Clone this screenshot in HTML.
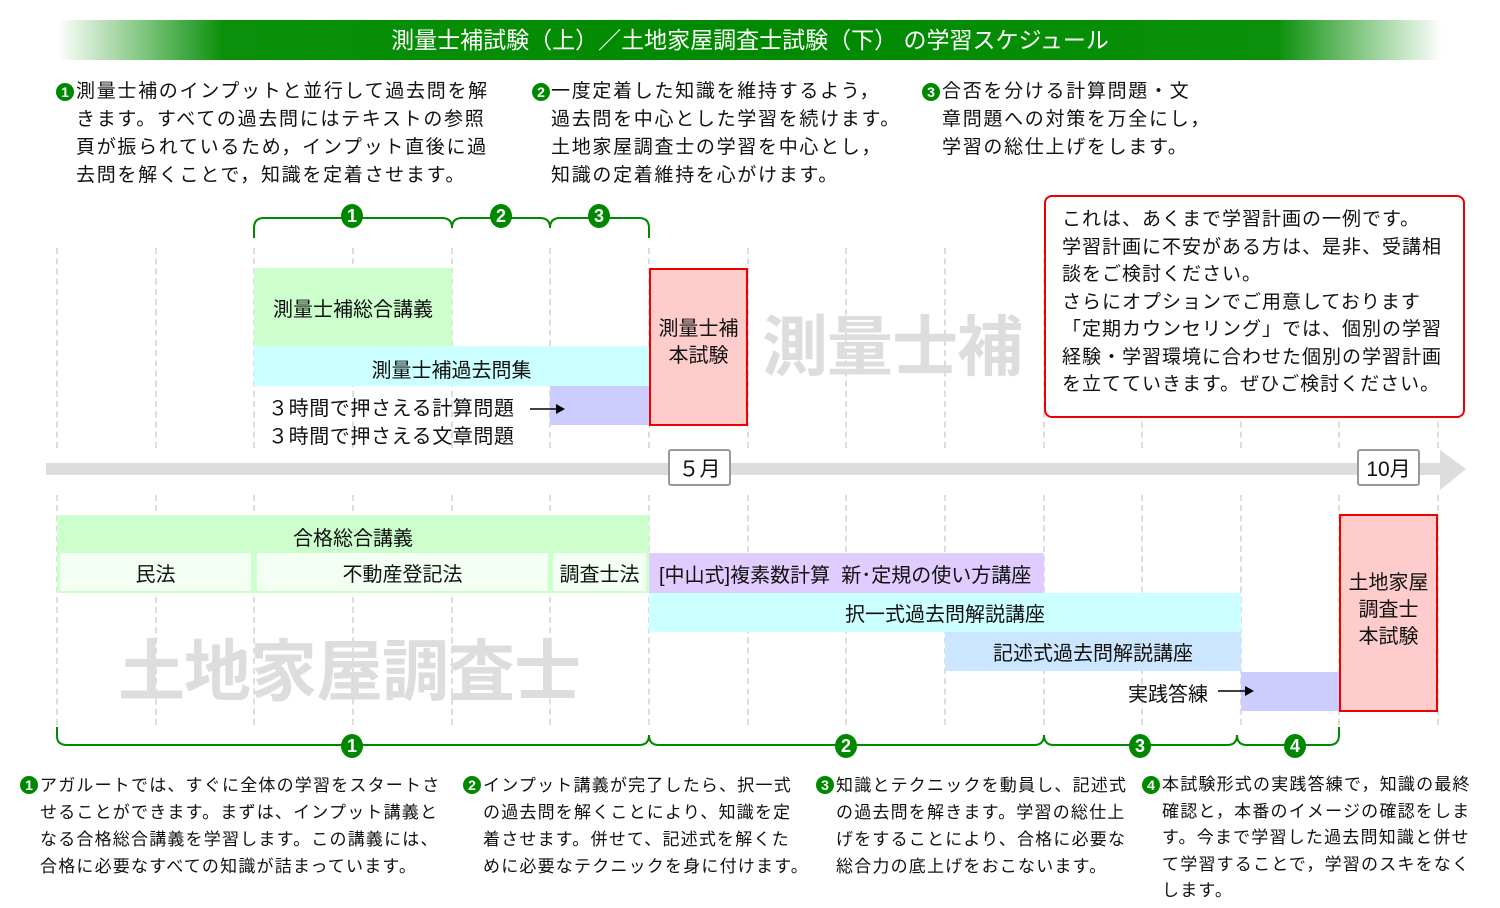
<!DOCTYPE html>
<html><head><meta charset="utf-8"><style>
body{margin:0;width:1500px;height:908px;background:#fff;position:relative;overflow:hidden;font-family:"Liberation Sans","Noto Sans CJK JP",sans-serif;color:#111}
.a{position:absolute}
.vl{position:absolute;top:248px;width:0;border-left:2px dashed #ddd;height:200px}
.vl2{position:absolute;top:495px;width:0;border-left:2px dashed #ddd;height:230px}
.t{position:absolute;font-size:19px;line-height:28px;letter-spacing:1.7px;white-space:nowrap}
.b{position:absolute;font-size:17px;line-height:27px;letter-spacing:1.2px;white-space:nowrap}
.n{position:absolute;width:18px;height:18px;border-radius:50%;background:#080;color:#fff;font-size:14px;line-height:18px;text-align:center;font-weight:bold;letter-spacing:0}
.c{position:absolute;width:22px;height:24px;border-radius:50%;background:#080;color:#fff;font-weight:bold;font-size:18px;line-height:24px;text-align:center}
.box{position:absolute;display:flex;align-items:center;justify-content:center;font-size:20px;white-space:nowrap}
.ex{position:absolute;box-sizing:border-box;border:2px solid #e00;background:#ffcccc;font-size:20px;text-align:center;line-height:27px}
</style></head><body>
<div class="a" style="left:57px;top:20px;width:1386px;height:40px;background:linear-gradient(90deg,#fff 0%,#0a900a 12%,#008a00 50%,#0a900a 88%,#fff 100%)"></div>
<div class="a" style="left:0;top:20px;width:1500px;height:40px;line-height:40px;text-align:center;color:#fff;font-size:23px">測量士補試験（上）／土地家屋調査士試験（下） の学習スケジュール</div>

<div class="n" style="left:56px;top:83px">1</div>
<div class="t" style="left:76px;top:78px">測量士補のインプットと並行して過去問を解<br>きます。すべての過去問にはテキストの参照<br>頁が振られているため，インプット直後に過<br>去問を解くことで，知識を定着させます。</div>
<div class="n" style="left:532px;top:83px">2</div>
<div class="t" style="left:551px;top:78px">一度定着した知識を維持するよう，<br>過去問を中心とした学習を続けます。<br>土地家屋調査士の学習を中心とし，<br>知識の定着維持を心がけます。</div>
<div class="n" style="left:922px;top:83px">3</div>
<div class="t" style="left:942px;top:78px">合否を分ける計算問題・文<br>章問題への対策を万全にし，<br>学習の総仕上げをします。</div>

<!-- grid -->
<div class="vl" style="left:56px"></div><div class="vl" style="left:155px"></div><div class="vl" style="left:253px"></div><div class="vl" style="left:352px"></div><div class="vl" style="left:451px"></div><div class="vl" style="left:549px"></div><div class="vl" style="left:648px"></div><div class="vl" style="left:747px"></div><div class="vl" style="left:845px"></div><div class="vl" style="left:944px"></div><div class="vl" style="left:1043px"></div><div class="vl" style="left:1141px"></div><div class="vl" style="left:1240px"></div><div class="vl" style="left:1338px"></div><div class="vl" style="left:1437px"></div>
<div class="vl2" style="left:56px"></div><div class="vl2" style="left:155px"></div><div class="vl2" style="left:253px"></div><div class="vl2" style="left:352px"></div><div class="vl2" style="left:451px"></div><div class="vl2" style="left:549px"></div><div class="vl2" style="left:648px"></div><div class="vl2" style="left:747px"></div><div class="vl2" style="left:845px"></div><div class="vl2" style="left:944px"></div><div class="vl2" style="left:1043px"></div><div class="vl2" style="left:1141px"></div><div class="vl2" style="left:1240px"></div><div class="vl2" style="left:1338px"></div><div class="vl2" style="left:1437px"></div>

<!-- watermarks -->
<div class="a" style="left:762px;top:294px;font-size:66px;font-weight:bold;color:#ddd;white-space:nowrap;letter-spacing:-1px">測量士補</div>
<div class="a" style="left:118px;top:618px;font-size:67px;font-weight:bold;color:#ddd;white-space:nowrap;letter-spacing:-1px">土地家屋調査士</div>

<!-- top rows -->
<div class="box" style="left:254px;top:268px;width:198px;height:78px;background:#ccffcc">測量士補総合講義</div>
<div class="box" style="left:254px;top:346px;width:395px;height:40px;background:#ccffff;padding-top:4px;box-sizing:border-box">測量士補過去問集</div>
<div class="a" style="left:550px;top:386px;width:99px;height:39px;background:#ccccff"></div>
<div class="a" style="left:268px;top:395px;font-size:20px;line-height:28px;white-space:nowrap;letter-spacing:0.6px">３時間で押さえる計算問題<br>３時間で押さえる文章問題</div>
<div class="ex" style="left:649px;top:268px;width:99px;height:158px;padding-top:46px">測量士補<br>本試験</div>

<div class="box" style="left:668px;top:449px;width:63px;height:37px;box-sizing:border-box;border:2px solid #999;border-radius:3px;background:#fff;font-size:21px">５月</div>
<div class="box" style="left:1357px;top:449px;width:63px;height:37px;box-sizing:border-box;border:2px solid #999;border-radius:3px;background:#fff;font-size:21px">10月</div>

<div class="a" style="left:1044px;top:195px;width:421px;height:223px;box-sizing:border-box;border:2px solid #e00;border-radius:8px;background:#fff;padding:9px 0 0 16px;font-size:19px;line-height:27.5px;letter-spacing:1px;white-space:nowrap">これは、あくまで学習計画の一例です。<br>学習計画に不安がある方は、是非、受講相<br>談をご検討ください。<br>さらにオプションでご用意しております<br>「定期カウンセリング」では、個別の学習<br>経験・学習環境に合わせた個別の学習計画<br>を立てていきます。ぜひご検討ください。</div>

<!-- bottom rows -->
<div class="box" style="left:57px;top:515px;width:592px;height:78px;background:#ccffcc;align-items:flex-start;padding-top:7px;box-sizing:border-box">合格総合講義</div>
<div class="box" style="left:60px;top:553px;width:191px;height:38px;background:#f2fff2">民法</div>
<div class="box" style="left:257px;top:553px;width:291px;height:38px;background:#f2fff2">不動産登記法</div>
<div class="box" style="left:553px;top:553px;width:93px;height:38px;background:#f2fff2">調査士法</div>
<div class="box" style="left:649px;top:553px;width:395px;height:40px;background:#e0ccff;justify-content:flex-start;padding-left:10px;box-sizing:border-box">[中山式]複素数計算&nbsp;&nbsp;新･定規の使い方講座</div>
<div class="box" style="left:649px;top:593px;width:592px;height:39px;background:#ccffff">択一式過去問解説講座</div>
<div class="box" style="left:945px;top:632px;width:296px;height:39px;background:#cce6ff">記述式過去問解説講座</div>
<div class="a" style="left:1241px;top:672px;width:98px;height:39px;background:#ccccff"></div>
<div class="a" style="left:1128px;top:678px;font-size:20px;white-space:nowrap">実践答練</div>
<div class="ex" style="left:1339px;top:514px;width:99px;height:198px;padding-top:54px">土地家屋<br>調査士<br>本試験</div>

<!-- brackets / axis / arrows -->
<svg class="a" style="left:0;top:0" width="1500" height="908">
<g fill="none" stroke="#080" stroke-width="2">
<path d="M254 238 V228 Q254 218 264 218 H442 Q452 218 452 228 Q452 218 462 218 H540 Q550 218 550 228 Q550 218 560 218 H639 Q649 218 649 228 V238"/>
<path d="M57 727 V736 Q57 745 67 745 H639 Q649 745 649 735 Q649 745 659 745 H1034 Q1044 745 1044 735 Q1044 745 1054 745 H1227 Q1237 745 1237 735 Q1237 745 1247 745 H1329 Q1339 745 1339 735 V727"/>
</g>
<rect x="46" y="463" width="622" height="12" fill="#ddd"/>
<rect x="731" y="463" width="626" height="12" fill="#ddd"/>
<rect x="1420" y="463" width="22" height="12" fill="#ddd"/>
<polygon points="1440,450 1466,469 1440,490" fill="#ddd"/>
<line x1="530" y1="409" x2="556" y2="409" stroke="#000" stroke-width="1.5"/><polygon points="556,404 565,409 556,414"/>
<line x1="1218" y1="691" x2="1245" y2="691" stroke="#000" stroke-width="1.5"/><polygon points="1245,686 1254,691 1245,696"/>
</svg>
<div class="c" style="left:341px;top:204px">1</div><div class="c" style="left:490px;top:204px">2</div><div class="c" style="left:588px;top:204px">3</div>
<div class="c" style="left:341px;top:734px">1</div><div class="c" style="left:835px;top:734px">2</div><div class="c" style="left:1129px;top:734px">3</div><div class="c" style="left:1284px;top:734px">4</div>

<div class="n" style="left:20px;top:776px">1</div>
<div class="b" style="left:40px;top:772px">アガルートでは、すぐに全体の学習をスタートさ<br>せることができます。まずは、インプット講義と<br>なる合格総合講義を学習します。この講義には、<br>合格に必要なすべての知識が詰まっています。</div>
<div class="n" style="left:463px;top:776px">2</div>
<div class="b" style="left:483px;top:772px">インプット講義が完了したら、択一式<br>の過去問を解くことにより、知識を定<br>着させます。併せて、記述式を解くた<br>めに必要なテクニックを身に付けます。</div>
<div class="n" style="left:816px;top:776px">3</div>
<div class="b" style="left:836px;top:772px">知識とテクニックを動員し、記述式<br>の過去問を解きます。学習の総仕上<br>げをすることにより、合格に必要な<br>総合力の底上げをおこないます。</div>
<div class="n" style="left:1142px;top:776px">4</div>
<div class="b" style="left:1162px;top:772px;line-height:26.5px">本試験形式の実践答練で，知識の最終<br>確認と，本番のイメージの確認をしま<br>す。今まで学習した過去問知識と併せ<br>て学習することで，学習のスキをなく<br>します。</div>
</body></html>
